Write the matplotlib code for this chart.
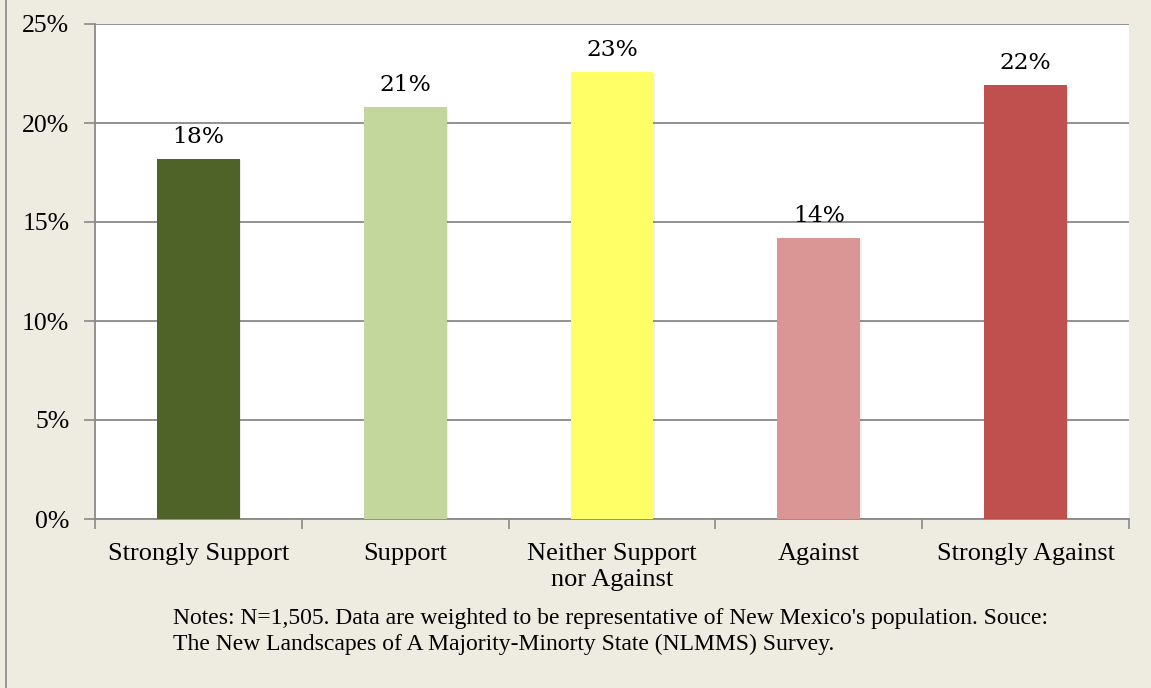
import matplotlib.pyplot as plt
import matplotlib.patheffects as pe
import numpy as np

categories = ["Strongly Support", "Support", "Neither Support\nnor Against",
              "Against", "Strongly Against"]
shares = [18.2, 20.8, 22.6, 14.2, 21.9]
colors = ["#4F6228", "#C3D69B", "#FFFF66", "#D99694", "#C0504D"]
yticks = [0, 5, 10, 15, 20, 25]
note = ("Notes: N=1,505. Data are weighted to be representative of New Mexico's population. Souce:\n"
        "The New Landscapes of A Majority-Minorty State (NLMMS) Survey.")

bg = "#EEEBE0"
grid = "#898989"

fig = plt.figure(figsize=(11.51, 6.88), dpi=100, facecolor=bg)
ax = fig.add_axes([95 / 1151, 1 - 519 / 688, (1129 - 95) / 1151, (519 - 24) / 688])
ax.set_facecolor("white")

x = np.arange(len(categories))
bars = ax.bar(x, shares, width=0.4, color=colors, zorder=3,
              path_effects=[pe.SimplePatchShadow(offset=(1, -1), alpha=0.08), pe.Normal()])

for rect, v in zip(bars, shares):
    ax.text(rect.get_x() + rect.get_width() / 2, v + 0.55, f"{round(v)}%",
            ha="center", va="bottom", fontsize=16.8, family="DejaVu Serif",
            color="black", zorder=4)

ax.set_xlim(-0.5, len(categories) - 0.5)
ax.set_ylim(0, 25)
ax.set_yticks(yticks, [f"{t}%" for t in yticks], fontsize=18.5, family="Liberation Serif")
ax.yaxis.grid(True, color=grid, linewidth=1.3, zorder=0)

ax.set_xticks(np.arange(len(categories) + 1) - 0.5)
ax.set_xticklabels([])
ax.set_xticks(x, minor=True)
ax.set_xticklabels(categories, minor=True, fontsize=19, family="Liberation Serif",
                   linespacing=1.28)
ax.tick_params(axis="x", which="minor", length=0, pad=17)
ax.tick_params(axis="x", which="major", length=7, color=grid, width=1.2)
ax.tick_params(axis="y", length=8, color=grid, width=1.2, pad=10.5)

for side in ["top", "right"]:
    ax.spines[side].set_visible(False)
for side in ["left", "bottom"]:
    ax.spines[side].set_color(grid)
    ax.spines[side].set_linewidth(1.3)

fig.text(173 / 1151, 1 - 608 / 688, note, ha="left", va="top", fontsize=17,
         family="Liberation Serif", linespacing=1.28)

fig.add_artist(plt.Line2D([6 / 1151, 6 / 1151], [0, 1], color=grid, linewidth=1.2))

fig.savefig("out.png", dpi=100, facecolor=bg)
